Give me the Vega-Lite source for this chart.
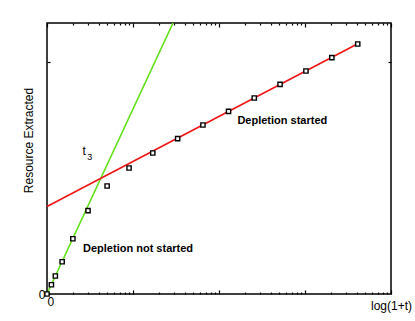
{
  "$schema": "https://vega.github.io/schema/vega-lite/v6.json",
  "autosize": "none",
  "width": 344,
  "height": 271,
  "padding": {"left": 47, "top": 23, "right": 24, "bottom": 27},
  "background": "white",
  "config": {
    "view": {"stroke": "black", "strokeWidth": 1.5},
    "font": "Liberation Sans",
    "axis": {"grid": false, "domain": false, "labelFont": "Liberation Sans", "titleFont": "Liberation Sans", "labelColor": "black", "titleColor": "black", "tickColor": "black", "tickWidth": 1.2, "labelFontSize": 12, "titleFontSize": 12, "titleFontWeight": "normal"}
  },
  "resolve": {"axis": {"x": "independent", "y": "independent"}},
  "layer": [
    {
      "data": {"values": [
        {"x": 0, "y": 0}, {"x": 1.465, "y": 3.5}
      ]},
      "mark": {"type": "line", "color": "#5ee012", "strokeWidth": 1.6},
      "encoding": {
        "x": {"field": "x", "type": "quantitative", "scale": {"domain": [0, 4], "nice": false}, "axis": null},
        "y": {"field": "y", "type": "quantitative", "scale": {"domain": [0, 3.5], "nice": false}, "axis": null}
      }
    },
    {
      "data": {"values": [
        {"x": 0, "y": 1.131}, {"x": 3.608, "y": 3.229}
      ]},
      "mark": {"type": "line", "color": "#f01515", "strokeWidth": 1.6},
      "encoding": {
        "x": {"field": "x", "type": "quantitative", "scale": {"domain": [0, 4], "nice": false},
          "axis": {"orient": "top", "title": null, "labels": false,
            "values": [0, 0.301, 0.477, 0.602, 0.699, 0.778, 0.845, 0.903, 0.954, 1, 1.301, 1.477, 1.602, 1.699, 1.778, 1.845, 1.903, 1.954, 2, 2.301, 2.477, 2.602, 2.699, 2.778, 2.845, 2.903, 2.954, 3, 3.301, 3.477, 3.602, 3.699, 3.778, 3.845, 3.903, 3.954, 4],
            "tickSize": {"condition": {"test": "round(datum.value) === datum.value", "value": -4}, "value": -2}}},
        "y": {"field": "y", "type": "quantitative", "scale": {"domain": [0, 3.5], "nice": false},
          "axis": {"orient": "right", "title": null, "labels": false, "values": [3], "tickSize": -3}}
      }
    },
    {
      "data": {"values": [
        {"x": 0, "y": 0}, {"x": 0.051, "y": 0.12}, {"x": 0.097, "y": 0.232}, {"x": 0.176, "y": 0.417},
        {"x": 0.301, "y": 0.714}, {"x": 0.477, "y": 1.076}, {"x": 0.699, "y": 1.395}, {"x": 0.954, "y": 1.627},
        {"x": 1.23, "y": 1.821}, {"x": 1.519, "y": 2.006}, {"x": 1.813, "y": 2.183}, {"x": 2.111, "y": 2.359},
        {"x": 2.41, "y": 2.531}, {"x": 2.71, "y": 2.707}, {"x": 3.011, "y": 2.88}, {"x": 3.312, "y": 3.052},
        {"x": 3.613, "y": 3.229}
      ]},
      "mark": {"type": "point", "shape": "square", "filled": true, "fill": "white", "stroke": "black", "size": 18, "strokeWidth": 1.4, "opacity": 1, "fillOpacity": 1},
      "encoding": {
        "x": {"field": "x", "type": "quantitative", "scale": {"domain": [0, 4], "nice": false},
          "axis": {"orient": "bottom", "title": "log(1+t)", "titleX": 344, "titleY": 11, "titleAlign": "center", "titleBaseline": "middle", "titleAnchor": null,
            "labelExpr": "datum.value === 0 ? '0' : ''", "labelPadding": 6, "labelBaseline": "top",
            "values": [0, 0.301, 0.477, 0.602, 0.699, 0.778, 0.845, 0.903, 0.954, 1, 1.301, 1.477, 1.602, 1.699, 1.778, 1.845, 1.903, 1.954, 2, 2.301, 2.477, 2.602, 2.699, 2.778, 2.845, 2.903, 2.954, 3, 3.301, 3.477, 3.602, 3.699, 3.778, 3.845, 3.903, 3.954, 4],
            "tickSize": {"condition": {"test": "round(datum.value) === datum.value", "value": -4}, "value": -2}}},
        "y": {"field": "y", "type": "quantitative", "scale": {"domain": [0, 3.5], "nice": false},
          "axis": {"orient": "left", "title": "Resource Extracted", "titleX": -19, "titleY": 117, "titleAngle": -90, "titleAlign": "center", "titleBaseline": "middle",
            "values": [0, 3], "tickSize": -3, "labelPadding": 5, "labelExpr": "datum.value === 0 ? '0' : ''"}}
      }
    },
    {
      "data": {"values": [
        {"label": "Depletion started", "x": 2.214, "y": 2.238},
        {"label": "Depletion not started", "x": 0.419, "y": 0.576}
      ]},
      "mark": {"type": "text", "align": "left", "baseline": "middle", "fontWeight": "bold", "fontSize": 11, "font": "Liberation Sans", "color": "black"},
      "encoding": {
        "x": {"field": "x", "type": "quantitative", "scale": {"domain": [0, 4], "nice": false}, "axis": null},
        "y": {"field": "y", "type": "quantitative", "scale": {"domain": [0, 3.5], "nice": false}, "axis": null},
        "text": {"field": "label"}
      }
    },
    {
      "data": {"values": [{"label": "t", "x": 0.433, "y": 1.844}]},
      "mark": {"type": "text", "align": "center", "baseline": "middle", "fontSize": 12, "font": "Liberation Sans", "color": "black"},
      "encoding": {
        "x": {"field": "x", "type": "quantitative", "scale": {"domain": [0, 4], "nice": false}, "axis": null},
        "y": {"field": "y", "type": "quantitative", "scale": {"domain": [0, 3.5], "nice": false}, "axis": null},
        "text": {"field": "label"}
      }
    },
    {
      "data": {"values": [{"label": "3", "x": 0.497, "y": 1.767}]},
      "mark": {"type": "text", "align": "center", "baseline": "middle", "fontSize": 9, "font": "Liberation Sans", "color": "black"},
      "encoding": {
        "x": {"field": "x", "type": "quantitative", "scale": {"domain": [0, 4], "nice": false}, "axis": null},
        "y": {"field": "y", "type": "quantitative", "scale": {"domain": [0, 3.5], "nice": false}, "axis": null},
        "text": {"field": "label"}
      }
    }
  ]
}
